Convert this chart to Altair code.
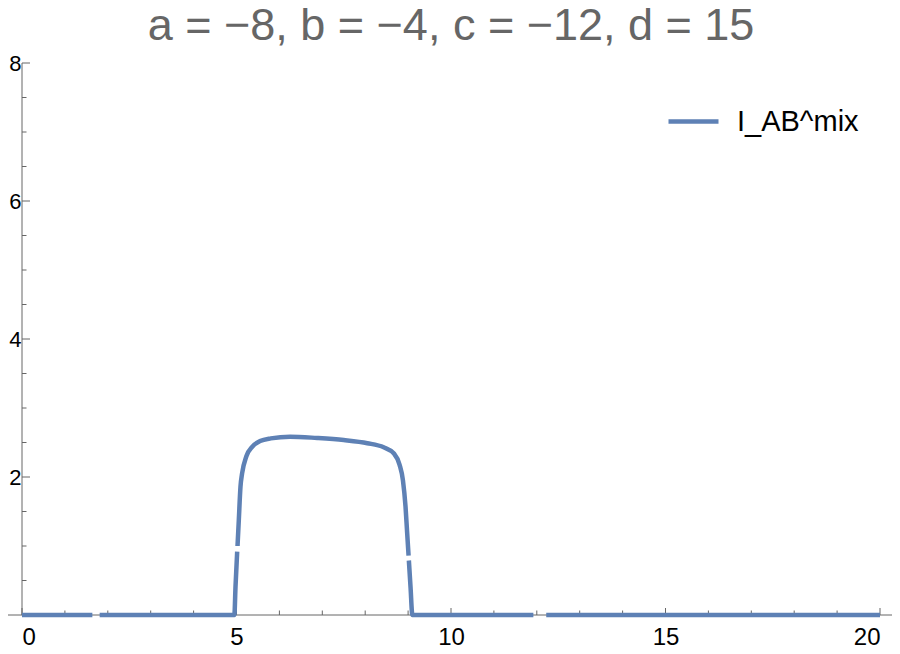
import altair as alt
import pandas as pd

title_text = "a = −8, b = −4, c = −12, d = 15"
series_name = "I_AB^mix"

# curve, split where the reference line shows gaps
seg_ids = [0, 0,
           1, 1, 1, 1,
           2, 2, 2, 2, 2, 2, 2, 2, 2, 2, 2, 2, 2, 2, 2, 2, 2, 2, 2, 2,
           3, 3, 3, 3,
           4, 4]
x_vals = [0.0, 1.64,
          1.81, 4.95, 4.977, 5.016,
          5.024, 5.054, 5.093, 5.13, 5.23, 5.37, 5.55, 5.80, 6.25, 6.88, 7.50, 8.05, 8.43, 8.67, 8.80, 8.88, 8.94, 8.975, 9.01, 9.011,
          9.018, 9.056, 9.10, 11.92,
          12.22, 20.0]
y_vals = [0.0, 0.0,
          0.0, 0.0, 0.41, 0.92,
          1.0, 1.377, 1.86, 2.05, 2.30, 2.44, 2.52, 2.56, 2.585, 2.565, 2.535, 2.49, 2.43, 2.34, 2.18, 1.95, 1.57, 1.22, 0.87, 0.86,
          0.79, 0.41, 0.0, 0.0,
          0.0, 0.0]

x_major = [0, 5, 10, 15, 20]
x_minor = [1, 2, 3, 4, 6, 7, 8, 9, 11, 12, 13, 14, 16, 17, 18, 19]
y_major = [2, 4, 6, 8]
y_minor = [0.5, 1, 1.5, 2.5, 3, 3.5, 4.5, 5, 5.5, 6.5, 7, 7.5]

W, H = 858, 552
FONT = "Liberation Sans"
AXIS_COLOR = "#666666"
LINE_COLOR = "#5E81B5"

df = pd.DataFrame({"x": x_vals, "y": y_vals, "seg": seg_ids, "series": series_name})

xs = alt.Scale(domain=[0, 20], nice=False, zero=False)
ys = alt.Scale(domain=[0, 8], nice=False, zero=False)

line = alt.Chart(df).mark_line(strokeWidth=4.5, interpolate="monotone").encode(
    x=alt.X("x:Q", scale=xs, axis=alt.Axis(values=x_major, labelFontSize=24, labelFont=FONT,
                                           labelColor="black", ticks=False, domain=False, grid=False,
                                           title=None, labelPadding=10, format="d")),
    y=alt.Y("y:Q", scale=ys, axis=alt.Axis(values=y_major, labelFontSize=22, labelFont=FONT,
                                           labelColor="black", ticks=False, domain=False, grid=False,
                                           title=None, labelPadding=1, format="d")),
    color=alt.Color("series:N", scale=alt.Scale(range=[LINE_COLOR]),
                    legend=alt.Legend(title=None, orient="none", legendX=644, legendY=31,
                                      symbolType="stroke", symbolStrokeWidth=4.5, symbolSize=2500,
                                      labelFontSize=29, labelFont=FONT, labelColor="black",
                                      labelOffset=16, padding=0)),
    detail="seg:N",
)

xmaj_df = pd.DataFrame({"v": x_major})
xmin_df = pd.DataFrame({"v": x_minor})
ymaj_df = pd.DataFrame({"v": y_major})
ymin_df = pd.DataFrame({"v": y_minor})

x_axis_line = alt.Chart(pd.DataFrame({"v": [0]})).mark_rule(color=AXIS_COLOR, strokeWidth=1).encode(
    y=alt.Y("v:Q", scale=ys), x=alt.value(-18), x2=alt.value(W + 18))
y_axis_line = alt.Chart(pd.DataFrame({"v": [0], "top": [8]})).mark_rule(color=AXIS_COLOR, strokeWidth=1).encode(
    x=alt.X("v:Q", scale=xs), y=alt.Y("v:Q", scale=ys), y2="top:Q")

xt_major = alt.Chart(xmaj_df).mark_rule(color=AXIS_COLOR, strokeWidth=1).encode(
    x=alt.X("v:Q", scale=xs), y=alt.value(H), y2=alt.value(H - 7))
xt_minor = alt.Chart(xmin_df).mark_rule(color=AXIS_COLOR, strokeWidth=1).encode(
    x=alt.X("v:Q", scale=xs), y=alt.value(H), y2=alt.value(H - 4.5))
yt_major = alt.Chart(ymaj_df).mark_rule(color=AXIS_COLOR, strokeWidth=1).encode(
    y=alt.Y("v:Q", scale=ys), x=alt.value(0), x2=alt.value(8))
yt_minor = alt.Chart(ymin_df).mark_rule(color=AXIS_COLOR, strokeWidth=1).encode(
    y=alt.Y("v:Q", scale=ys), x=alt.value(0), x2=alt.value(4.5))

chart = alt.layer(
    x_axis_line, y_axis_line, xt_major, xt_minor, yt_major, yt_minor, line
).properties(
    width=W, height=H,
    title=alt.TitleParams(title_text, fontSize=45, font=FONT, color="#666666", fontWeight="normal",
                          anchor="middle", offset=3, frame="group"),
    autosize=alt.AutoSizeParams(type="none"),
    padding={"left": 14, "top": 55, "right": 12, "bottom": 37},
).configure_view(stroke=None).resolve_scale(x="shared", y="shared")

chart.save("out.html", embed_options={"renderer": "svg", "actions": False})
